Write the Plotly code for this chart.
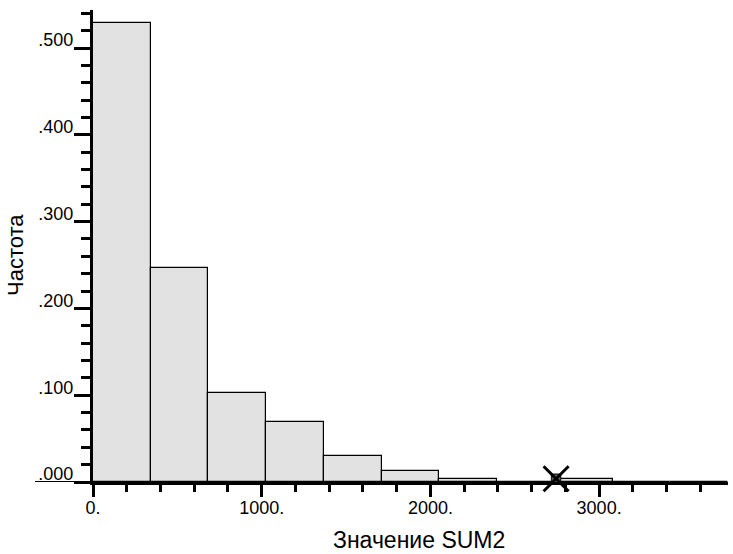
import plotly.graph_objects as go

# Data
bin_width = 342.2
freq = [0.5285, 0.2463, 0.1029, 0.0694, 0.0302, 0.0129, 0.0037, 0.0, 0.0037, 0.0, 0.0]
marker_x = [2745]
marker_y = [0.0037]

y_tickvals = [0.0, 0.1, 0.2, 0.3, 0.4, 0.5]
y_ticktext = [".000", ".100", ".200", ".300", ".400", ".500"]
x_tickvals = [0, 1000, 2000, 3000]
x_ticktext = ["0.", "1000.", "2000.", "3000."]
x_title = "Значение SUM2"
y_title = "Частота"

centers = [bin_width * (i + 0.5) for i in range(len(freq))]

fig = go.Figure()
fig.add_trace(go.Bar(
    x=centers, y=freq, width=[bin_width] * len(freq),
    marker=dict(color="#e2e2e2", line=dict(color="black", width=1.2)),
    showlegend=False, hoverinfo="skip",
))
fig.add_trace(go.Scatter(
    x=marker_x, y=marker_y, mode="markers",
    marker=dict(symbol="square", size=9, color="#707070", line=dict(color="#222", width=1.5)),
    showlegend=False, cliponaxis=False,
))
fig.add_trace(go.Scatter(
    x=marker_x, y=marker_y, mode="markers",
    marker=dict(symbol="x-thin-open", size=25, color="black", line=dict(color="black", width=3)),
    showlegend=False, cliponaxis=False,
))

font_family = "Liberation Sans, Arial, sans-serif"
x_max = 3764
y_max = 0.5438
plot_w = 635
plot_h = 472

fig.update_layout(
    width=733, height=554,
    margin=dict(l=93, r=5, t=10, b=72),
    paper_bgcolor="white", plot_bgcolor="white",
    font=dict(family=font_family, color="black", size=18),
    bargap=0,
    xaxis=dict(
        range=[0, x_max], showgrid=False, zeroline=False, automargin=False,
        showline=True, linecolor="black", linewidth=3,
        ticks="outside", ticklen=12, tickwidth=3, tickcolor="black",
        tickvals=x_tickvals, ticktext=x_ticktext,
        tickfont=dict(size=18, family=font_family),
        ticklabelstandoff=-5,
        minor=dict(ticks="outside", ticklen=7, tickwidth=3, tickcolor="black", dtick=200, tick0=0),
    ),
    yaxis=dict(
        range=[0, y_max], showgrid=False, zeroline=False, automargin=False,
        showline=True, linecolor="black", linewidth=3,
        ticks="outside", ticklen=16, tickwidth=3, tickcolor="black",
        tickvals=y_tickvals, ticktext=y_ticktext,
        tickfont=dict(size=18, family=font_family),
        ticklabelshift=-8, ticklabelstandoff=-3,
        minor=dict(ticks="outside", ticklen=9, tickwidth=3, tickcolor="black", dtick=0.02, tick0=0),
    ),
    shapes=[dict(type="line", xref="paper", yref="y", x0=-58 / plot_w, x1=0, y0=0, y1=0,
                 line=dict(color="black", width=2))],
    annotations=[
        dict(text=x_title, xref="paper", yref="paper", x=(418.5 - 93) / plot_w, y=-(540 - 482) / plot_h,
             xanchor="center", yanchor="middle", showarrow=False, font=dict(size=23, family=font_family)),
        dict(text=y_title, xref="paper", yref="paper", x=-(93 - 15) / plot_w, y=(482 - 255) / plot_h,
             xanchor="center", yanchor="middle", textangle=-90, showarrow=False,
             font=dict(size=22, family=font_family)),
    ],
)

fig.write_html("out.html", post_script="document.body.style.margin='0';",
               config={"displayModeBar": False})
